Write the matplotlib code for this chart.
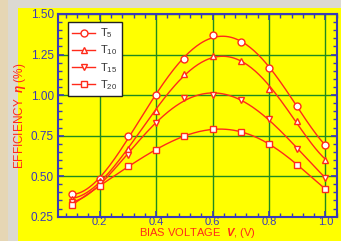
import numpy as np
import matplotlib
matplotlib.use("Agg")
import matplotlib.pyplot as plt
from matplotlib.patches import Rectangle
from matplotlib.ticker import MultipleLocator

plt.rcParams['font.family'] = ['Liberation Sans', 'DejaVu Sans']
plt.rcParams['mathtext.fontset'] = 'custom'
plt.rcParams['mathtext.rm'] = 'Liberation Sans'
plt.rcParams['mathtext.it'] = 'Liberation Sans:italic'
plt.rcParams['mathtext.bf'] = 'Liberation Sans:bold'
plt.rcParams['mathtext.bfit'] = 'Liberation Sans:bold:italic'

# data
voltage = [0.1, 0.2, 0.3, 0.4, 0.5, 0.6, 0.7, 0.8, 0.9, 1.0]
eff_t5 = [0.39, 0.48, 0.75, 1.00, 1.22, 1.37, 1.33, 1.17, 0.93, 0.69]
eff_t10 = [0.36, 0.47, 0.67, 0.90, 1.13, 1.24, 1.21, 1.04, 0.84, 0.60]
eff_t15 = [0.34, 0.455, 0.63, 0.83, 0.98, 1.00, 0.97, 0.85, 0.67, 0.49]
eff_t20 = [0.32, 0.44, 0.56, 0.66, 0.75, 0.79, 0.77, 0.70, 0.57, 0.42]
labels = ['T$_{5}$', 'T$_{10}$', 'T$_{15}$', 'T$_{20}$']
markers = ['o', '^', 'v', 's']

red = '#ff2a1a'
blue = '#3a3ab8'
green = '#1f8a1f'

fig = plt.figure(figsize=(3.41, 2.41), dpi=100, facecolor='#dcd9d2')
# beige strip on far left, yellow panel behind the axes
fig.patches.append(Rectangle((0, 0), 8 / 341, 1, transform=fig.transFigure,
                             facecolor='#e6d6b4', edgecolor='none', zorder=-2))
fig.patches.append(Rectangle((18 / 341, 0), 1, 1 - 8 / 241, transform=fig.transFigure,
                             facecolor='#ffff00', edgecolor='none', zorder=-2))

ax = fig.add_axes([58 / 341, 1 - 216.7 / 241, (336.7 - 58) / 341, (216.7 - 14) / 241])
ax.set_zorder(1)
ax.set_facecolor('#ffff00')

xs = np.linspace(0.1, 1.0, 200)
handles = []
for ys, lab, mk in zip([eff_t5, eff_t10, eff_t15, eff_t20], labels, markers):
    coef = np.polyfit(voltage, ys, 5)
    ax.plot(xs, np.polyval(coef, xs), color=red, lw=1.0, zorder=3)
    ax.plot(voltage, ys, ls='none', marker=mk, ms=5, mfc='white', mec=red,
            mew=1.0, zorder=4)
    lh, = ax.plot([], [], color=red, lw=1.0, marker=mk, ms=5, mfc='white', mec=red,
                  mew=1.0, label=lab)
    handles.append(lh)

ax.set_xlim(0.052, 1.04)
ax.set_ylim(0.25, 1.50)
ax.xaxis.set_minor_locator(MultipleLocator(0.04))
ax.yaxis.set_minor_locator(MultipleLocator(0.05))
ax.set_xticks([0.2, 0.4, 0.6, 0.8, 1.0])
ax.set_xticklabels(['0.2', '0.4', '0.6', '0.8', '1.0'])
ax.set_yticks([0.25, 0.50, 0.75, 1.00, 1.25, 1.50])
ax.set_yticklabels(['0.25', '0.50', '0.75', '1.00', '1.25', '1.50'])

ax.grid(True, which='major', color=green, lw=1.0, zorder=1)
ax.set_axisbelow(True)
for sp in ax.spines.values():
    sp.set_color(blue)
    sp.set_linewidth(1.5)
ax.tick_params(which='both', direction='in', top=True, right=True, color=blue,
               labelcolor=blue, labelsize=8.5)
ax.tick_params(axis='x', pad=0.5, labelsize=8)
ax.tick_params(axis='y', pad=3)
ax.tick_params(which='major', length=4, width=1.2)
ax.tick_params(which='minor', length=3, width=1.0)

ax.set_xlabel(r'BIAS VOLTAGE  $\mathbfit{V}$, (V)', color=red, fontsize=8, va='bottom')
ax.xaxis.set_label_coords(0.5, -0.115)
ax.set_ylabel(r'EFFICIENCY  $\mathbfit{\eta}$ (%)', color=red, fontsize=8.5, labelpad=2)

leg = ax.legend(handles=handles, loc='upper left', bbox_to_anchor=(0.036, 0.96),
                borderaxespad=0, frameon=True, fancybox=False, edgecolor='#222222',
                facecolor='white', framealpha=1, fontsize=8, handlelength=2.0,
                labelspacing=0.3, borderpad=0.4, handletextpad=0.5)
leg.get_frame().set_linewidth(1.0)
for t in leg.get_texts():
    t.set_color('#333333')

fig.savefig('out.png', dpi=100, facecolor=fig.get_facecolor())
